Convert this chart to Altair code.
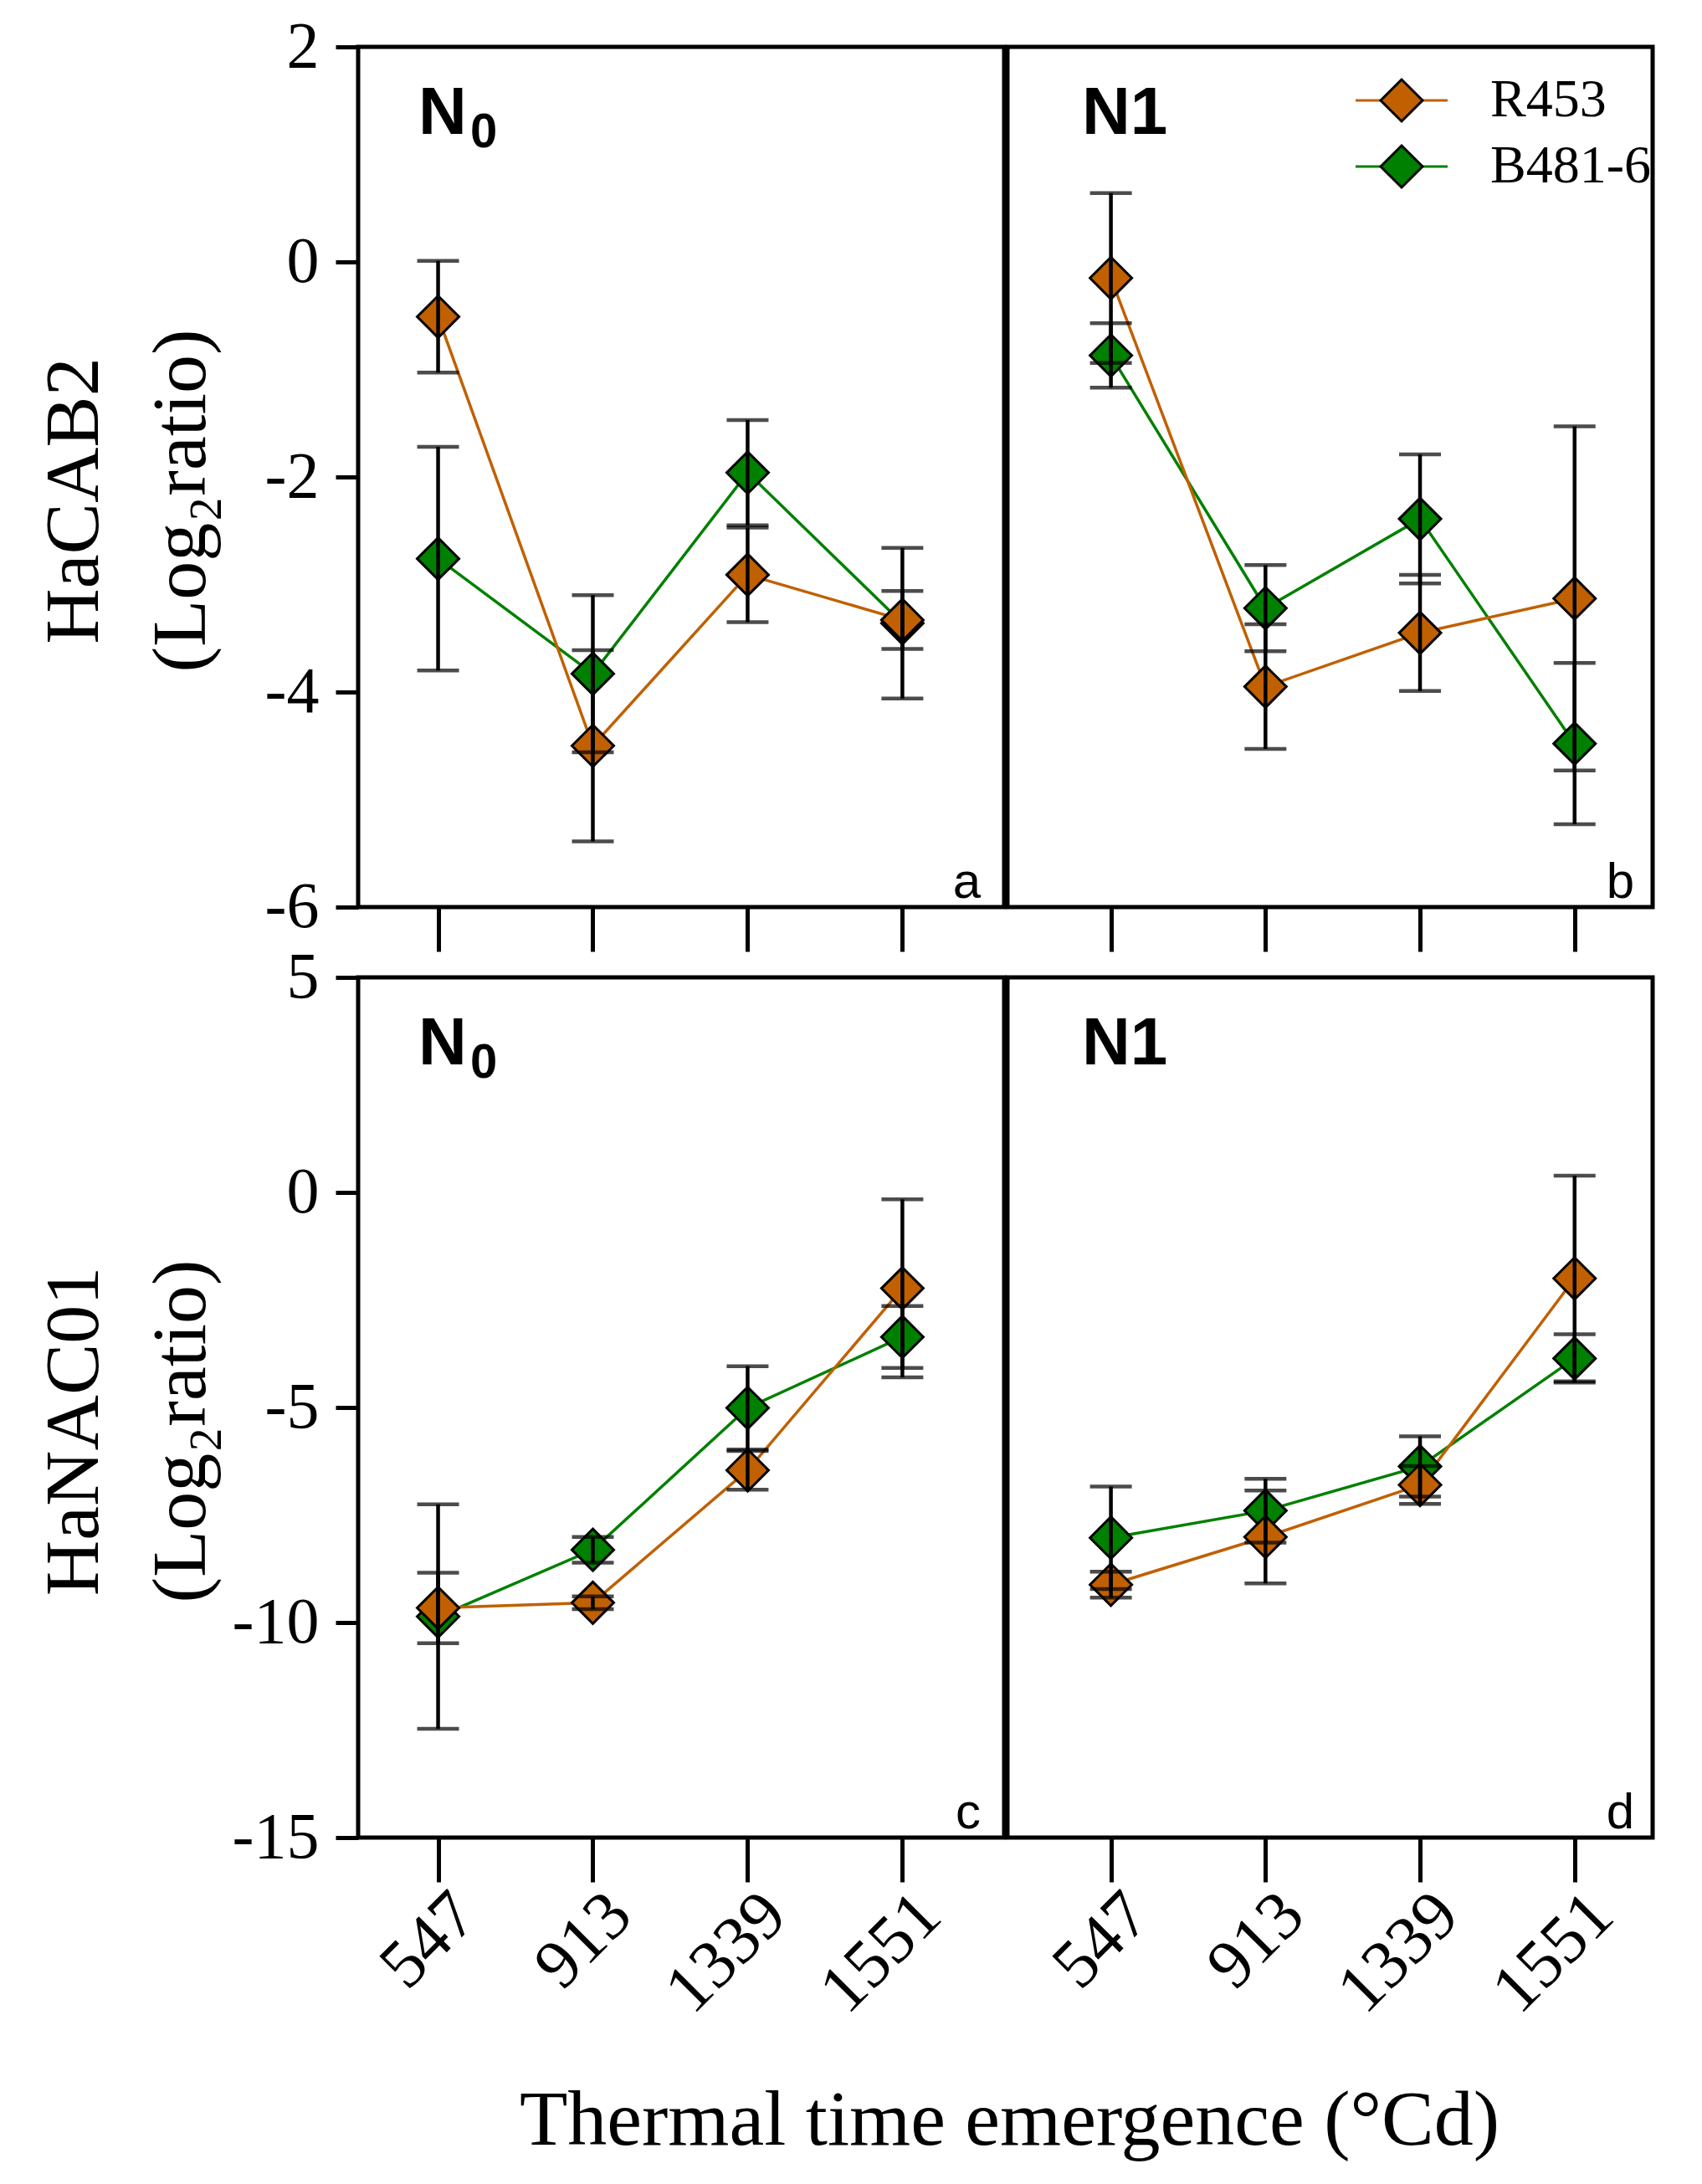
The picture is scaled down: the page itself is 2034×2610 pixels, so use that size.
import altair as alt
import pandas as pd

# ---------------- data ----------------
TIMES = ["547", "913", "1339", "1551"]
SERIES = ["R453", "B481-6"]
SERIES_COLORS = ["#C06000", "#008000"]

# HaCAB2 - N0 (panel a)
CAB_N0_R453 = [-0.51, -4.50, -2.91, -3.33]
CAB_N0_R453_ERR = [0.52, 0.89, 0.44, 0.27]
CAB_N0_B481 = [-2.76, -3.83, -1.96, -3.36]
CAB_N0_B481_ERR = [1.04, 0.73, 0.49, 0.70]
# HaCAB2 - N1 (panel b)
CAB_N1_R453 = [-0.15, -3.95, -3.45, -3.13]
CAB_N1_R453_ERR = [0.79, 0.58, 0.54, 1.60]
CAB_N1_B481 = [-0.87, -3.22, -2.39, -4.48]
CAB_N1_B481_ERR = [0.30, 0.40, 0.60, 0.75]
# HaNAC01 - N0 (panel c)
NAC_N0_R453 = [-9.66, -9.54, -6.46, -2.23]
NAC_N0_R453_ERR = [0.82, 0.15, 0.45, 2.07]
NAC_N0_B481 = [-9.86, -8.31, -5.01, -3.36]
NAC_N0_B481_ERR = [2.61, 0.30, 0.97, 0.72]
# HaNAC01 - N1 (panel d)
NAC_N1_R453 = [-9.12, -8.01, -6.80, -2.00]
NAC_N1_R453_ERR = [0.30, 1.08, 0.44, 2.39]
NAC_N1_B481 = [-8.03, -7.40, -6.37, -3.86]
NAC_N1_B481_ERR = [1.19, 0.74, 0.70, 0.56]

GENES = ["HaCAB2", "HaNAC01"]
Y_SUBTITLE = "(Log\u2082ratio)"
Y_DOMAINS = {"HaCAB2": [-6, 2], "HaNAC01": [-15, 5]}
Y_TICKS = {"HaCAB2": [2, 0, -2, -4, -6], "HaNAC01": [5, 0, -5, -10, -15]}
N_MAIN = ["N", "N1"]
N_SUB = ["0", ""]
PANEL_TAGS = ["a", "b", "c", "d"]
X_TITLE = "Thermal time emergence (\u00b0Cd)"

SERIF = "Liberation Serif"
SANS = "Liberation Sans"

W_LEFT, W_RIGHT, H = 772, 771, 1028


def make_df(r_mean, r_err, b_mean, b_err):
    rows = []
    for s, means, errs in (("B481-6", b_mean, b_err), ("R453", r_mean, r_err)):
        for t, m, e in zip(TIMES, means, errs):
            rows.append({"time": t, "series": s, "mean": m, "err": e})
    return pd.DataFrame(rows)


def panel(df, gene, n_idx, tag, left, bottom, legend, title_x=False):
    width = W_LEFT if left else W_RIGHT
    xscale = alt.Scale(type="point", domain=TIMES, padding=0.587,
                       align=0.44 if left else 0.57)
    if bottom:
        xaxis = alt.Axis(
            labels=True, labelAngle=315, labelAlign="right",
            labelBaseline="middle", labelPadding=26, labelOffset=32,
            labelFont=SERIF, labelFontSize=82, labelColor="black",
            domain=False, ticks=True,
            tickSize=53, tickWidth=5, tickColor="black", grid=False,
            title=X_TITLE if title_x else None,
            titleFont=SERIF, titleFontSize=94, titleFontWeight="normal",
            titleColor="black", titleX=778, titleY=366,
            titleAlign="center", titleBaseline="alphabetic", titleAngle=0,
        )
    else:
        xaxis = alt.Axis(labels=False, domain=False, ticks=True, tickSize=53,
                         tickWidth=5, tickColor="black", grid=False, title=None)
    yscale = alt.Scale(domain=Y_DOMAINS[gene], nice=False, zero=False)
    if left:
        yaxis = alt.Axis(
            values=Y_TICKS[gene], labelExpr="'' + datum.value",
            labelFont=SERIF, labelFontSize=78, labelColor="black",
            labelPadding=20, domain=False, tickSize=27, tickWidth=5,
            tickColor="black", grid=False,
            title=[gene, Y_SUBTITLE], titleFont=SERIF, titleFontSize=92,
            titleFontWeight="normal", titleColor="black", titleLineHeight=128,
            titleAngle=270, titleAlign="center", titleBaseline="middle",
            titleX=-340, titleY=H / 2 + 28,
        )
    else:
        yaxis = None

    x = alt.X("time:N", sort=TIMES, scale=xscale, axis=xaxis)
    y = alt.Y("mean:Q", scale=yscale, axis=yaxis)
    ylo = alt.Y("lo:Q", scale=yscale, axis=yaxis)
    yhi = alt.Y("hi:Q", scale=yscale, axis=yaxis)

    if legend:
        common = dict(
            orient="none", legendX=439, legendY=32, title=None,
            symbolSize=2500, symbolStrokeWidth=3,
            labelFont=SERIF, labelFontSize=64, labelColor="black",
            labelLimit=0, labelOffset=74, rowPadding=15, padding=0,
        )
        line_legend = alt.Legend(symbolType="M-2.2,0L2.2,0", zindex=0, **common)
        pt_legend = alt.Legend(symbolType="diamond", symbolStrokeColor="black",
                               labelOpacity=0, zindex=1, **common)
    else:
        line_legend = None
        pt_legend = None

    cscale = alt.Scale(domain=SERIES, range=SERIES_COLORS)
    # a distinct (but equivalent) domain for the fill scale keeps the two
    # legends separate so the diamond legend can sit over the line legend
    fscale = alt.Scale(domain=[s + " " for s in SERIES], range=SERIES_COLORS)
    base = alt.Chart(df).transform_calculate(
        lo="datum.mean - datum.err", hi="datum.mean + datum.err",
        series_f="datum.series + ' '")

    lines = base.mark_line(strokeWidth=3.5).encode(
        x=x, y=y, color=alt.Color("series:N", scale=cscale, legend=line_legend),
        detail="series:N")
    pts = base.mark_point(shape="diamond", filled=True, size=2500,
                          stroke="black", strokeWidth=3, opacity=1).encode(
        x=x, y=y, fill=alt.Fill("series_f:N", scale=fscale, legend=pt_legend))
    bars = base.mark_rule(color="black", strokeWidth=4.5).encode(
        x=x, y=ylo, y2="hi:Q")
    cap_lo = base.mark_tick(color="black", size=50, thickness=4.5,
                            orient="horizontal").encode(x=x, y=ylo)
    cap_hi = base.mark_tick(color="black", size=50, thickness=4.5,
                            orient="horizontal").encode(x=x, y=yhi)

    nx = 72 if left else 89
    n_main = alt.Chart(pd.DataFrame({"label": [N_MAIN[n_idx]]})).mark_text(
        font=SANS, fontWeight="bold", fontSize=80, color="black",
        align="left", baseline="alphabetic").encode(
        text="label:N", x=alt.value(nx), y=alt.value(104))
    layers = [lines, pts, bars, cap_lo, cap_hi, n_main]
    if N_SUB[n_idx]:
        n_sub = alt.Chart(pd.DataFrame({"label": [N_SUB[n_idx]]})).mark_text(
            font=SANS, fontWeight="bold", fontSize=58, color="black",
            align="left", baseline="alphabetic").encode(
            text="label:N", x=alt.value(nx + 62), y=alt.value(120))
        layers.append(n_sub)
    tag_txt = alt.Chart(pd.DataFrame({"label": [tag]})).mark_text(
        font=SANS, fontSize=60, color="black", align="right",
        baseline="alphabetic").encode(
        text="label:N", x=alt.value(width - (28 if left else 22)),
        y=alt.value(H - 11))
    layers.append(tag_txt)

    return alt.layer(*layers).properties(width=width, height=H)


pa = panel(make_df(CAB_N0_R453, CAB_N0_R453_ERR, CAB_N0_B481, CAB_N0_B481_ERR),
           "HaCAB2", 0, PANEL_TAGS[0], True, False, False)
pb = panel(make_df(CAB_N1_R453, CAB_N1_R453_ERR, CAB_N1_B481, CAB_N1_B481_ERR),
           "HaCAB2", 1, PANEL_TAGS[1], False, False, True)
pc = panel(make_df(NAC_N0_R453, NAC_N0_R453_ERR, NAC_N0_B481, NAC_N0_B481_ERR),
           "HaNAC01", 0, PANEL_TAGS[2], True, True, False, title_x=True)
pd_ = panel(make_df(NAC_N1_R453, NAC_N1_R453_ERR, NAC_N1_B481, NAC_N1_B481_ERR),
            "HaNAC01", 1, PANEL_TAGS[3], False, True, False)

chart = alt.concat(
    pa, pb, pc, pd_, columns=2,
    spacing=alt.RowColnumber(row=84, column=4), bounds="flush",
).resolve_legend(
    color="independent", fill="independent"
).properties(
    background="white",
    padding={"left": 31, "top": 6, "right": 10, "bottom": 10},
).configure_view(
    stroke="black", strokeWidth=5
)

chart.save("out.html", embed_options={"renderer": "svg", "actions": False})
